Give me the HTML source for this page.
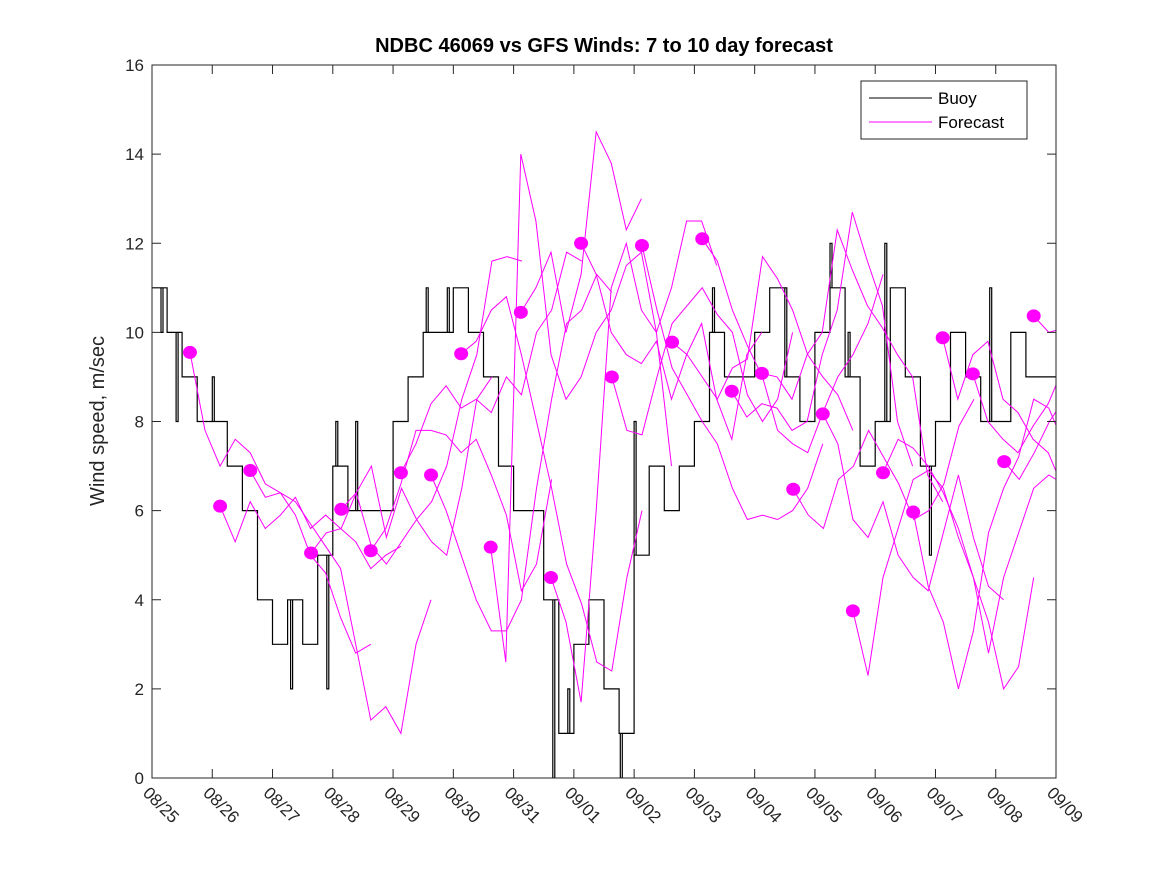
<!DOCTYPE html>
<html><head><meta charset="utf-8"><style>
body{margin:0;background:#fff}
svg{display:block;font-family:"Liberation Sans","DejaVu Sans",sans-serif}
</style></head><body>
<svg id="c" width="1167" height="875"></svg>
<script>
const xTickLabels=["08/25","08/26","08/27","08/28","08/29","08/30","08/31","09/01","09/02","09/03","09/04","09/05","09/06","09/07","09/08","09/09"];
const yTicks=[0,2,4,6,8,10,12,14,16];
const buoyStep=0.25;
const buoy=[11,10,9,8,8,7,6,4,3,4,3,5,7,6,6,6,8,9,10,10,11,10,9,7,6,6,4,1,3,4,2,1,5,7,6,7,8,10,9,9,10,11,9,8,10,11,9,7,8,11,9,7,8,10,9,8,8,10,9,9];
const spikeDays=[0.15,0.4,1.0,2.3,2.9,3.05,3.38,4.55,4.9,6.65,6.9,7.77,8.0,9.3,10.5,11.25,11.55,12.16,12.9,13.9];
const spikeVals=[10,8,9,2,2,8,8,11,11,0,2,0,8,11,11,12,10,12,5,11];
const dotDays=[0.63,1.13,1.63,2.64,3.14,3.63,4.13,4.63,5.13,5.62,6.12,6.62,7.12,7.63,8.13,8.63,9.13,9.62,10.12,10.64,11.13,11.63,12.13,12.63,13.12,13.62,14.14,14.63];
const dotVals=[9.55,6.1,6.9,5.05,6.03,5.1,6.85,6.8,9.52,5.18,10.45,4.5,12.0,9.0,11.95,9.78,12.1,8.68,9.08,6.48,8.17,3.75,6.85,5.97,9.88,9.07,7.1,10.37];
const fcStep=0.25;
const fc=[
[9.55,7.8,7.0,7.6,7.3,6.6,6.4,5.9,5.0,4.6,3.6,2.8,3.0],
[6.1,5.3,6.2,5.6,5.9,6.3,5.6,5.9,5.6,5.3,4.7,5.0,5.2],
[6.9,6.3,6.4,6.2,5.7,5.2,4.7,3.0,1.3,1.6,1.0,3.0,4.0],
[5.05,5.5,5.6,6.4,7.0,5.4,6.5,5.8,5.3,5.0,6.5,8.5,9.0],
[6.03,6.4,5.2,4.8,5.3,5.8,6.2,7.0,8.5,9.5,11.6,11.7,11.6],
[5.1,5.6,6.6,7.8,7.8,7.7,7.3,7.6,6.8,5.9,4.2,4.8,6.7],
[6.85,7.5,8.4,8.8,8.3,8.5,8.2,9.0,8.6,10.0,10.5,11.8,11.6],
[6.8,6.0,5.0,4.0,3.3,3.3,4.0,6.5,8.5,10.2,10.5,11.3,10.9],
[9.52,9.8,10.5,10.8,9.5,8.0,6.5,4.8,3.9,2.6,2.4,4.5,6.0],
[5.18,2.6,14.0,12.5,9.5,8.5,9.0,10.0,10.5,11.5,11.8,10.0,7.0],
[10.45,11.0,11.8,10.0,11.3,14.5,13.8,12.3,13.0],
[4.5,3.5,1.7,6.0,11.0,12.0,10.5,10.0,11.0,12.5,12.5,11.5],
[12.0,11.3,10.0,9.5,9.3,9.8,8.5,9.5,10.2,8.5,7.6,9.5,10.0],
[9.0,7.8,7.7,9.0,10.2,10.6,11.0,10.4,10.0,8.6,8.0,8.5,10.0],
[11.95,10.5,9.2,8.6,8.0,7.5,6.5,5.8,5.9,5.8,6.0,6.5,7.5],
[9.78,9.5,9.0,8.5,9.2,9.4,11.7,11.2,10.5,9.5,9.0,8.6,7.8],
[12.1,11.6,10.5,9.7,9.0,7.8,7.5,7.3,8.2,9.0,9.5,10.2,11.3],
[8.68,8.1,8.4,8.3,7.8,8.0,9.5,10.5,12.7,11.6,10.6,8.0,7.0],
[9.08,9.0,8.5,9.5,10.0,12.3,11.4,10.6,10.1,9.5,9.0,6.8,6.2],
[6.48,5.9,5.6,6.7,7.0,7.8,7.2,6.6,5.8,6.0,6.6,7.9,8.5],
[8.17,7.5,5.8,5.4,6.2,5.0,4.5,4.2,5.5,6.8,5.4,4.3,4.0],
[3.75,2.3,4.5,5.6,6.7,6.9,6.5,5.4,4.5,3.5,2.0,2.5,4.5],
[6.85,7.6,7.4,7.0,6.4,5.6,4.5,2.8,4.5,5.5,6.5,6.8,6.6],
[5.97,4.3,3.5,2.0,3.3,5.5,6.5,7.2,8.5,8.3,7.5,6.0,5.8],
[9.88,8.5,9.5,9.8,8.5,8.2,7.6,7.3,6.5,6.3,6.6,7.5,6.3],
[9.07,8.0,7.6,7.3,7.9,8.4,9.2,9.5,10.5,10.7,11.2,11.5,12.0],
[7.1,6.7,7.3,8.0,8.5,7.6,8.2,8.0],
[10.37,10.0,10.1,11.3]
];
const L=152,R=1056,T=65,B=778,SPAN=15;
const xs=d=>L+d*(R-L)/SPAN, ys=v=>B-v*(B-T)/16;
const NS="http://www.w3.org/2000/svg", svg=document.getElementById('c');
function mk(t,a,p){const e=document.createElementNS(NS,t);for(const k in a)e.setAttribute(k,a[k]);(p||svg).appendChild(e);return e;}
const clip=mk('clipPath',{id:'pc'});mk('rect',{x:L,y:T,width:R-L,height:B-T},clip);
const plot=mk('g',{'clip-path':'url(#pc)'});


let d='';buoy.forEach((v,i)=>{const x=xs(i*buoyStep),y=ys(v);d+=(i?'H'+x.toFixed(1)+'V'+y.toFixed(1):'M'+x.toFixed(1)+','+y.toFixed(1));});
d+='H'+xs(buoy.length*buoyStep).toFixed(1);
spikeDays.forEach((sd,i)=>{const base=buoy[Math.min(buoy.length-1,Math.floor(sd/buoyStep))];const x=xs(sd);
 d+='M'+x.toFixed(1)+','+ys(base).toFixed(1)+'V'+ys(spikeVals[i]).toFixed(1)+'H'+(x+2).toFixed(1)+'V'+ys(base).toFixed(1);});
const bl=mk('path',{d:d,fill:'none',stroke:'#000','stroke-width':1.2},plot);


fc.forEach((s,k)=>{const p=s.map((v,i)=>xs(dotDays[k]+i*fcStep).toFixed(1)+','+ys(v).toFixed(1)).join(' ');
 const e=mk('polyline',{points:p,fill:'none',stroke:'#ff00ff','stroke-width':1},plot);
 
 });
dotDays.forEach((dd,i)=>{const e=mk('ellipse',{cx:xs(dd),cy:ys(dotVals[i]),rx:7,ry:6.5,fill:'#ff00ff'},plot);
 
 });
const ax=mk('rect',{x:L,y:T,width:R-L,height:B-T,fill:'none',stroke:'#262626','stroke-width':1});


yTicks.forEach(v=>{const y=ys(v);mk('line',{x1:L,x2:L+9,y1:y,y2:y,stroke:'#262626'});mk('line',{x1:R,x2:R-9,y1:y,y2:y,stroke:'#262626'});
 const t=mk('text',{x:L-8,y:y+6,'text-anchor':'end','font-size':17,fill:'#262626'});t.textContent=v;
 
 });
xTickLabels.forEach((s,i)=>{const x=xs(i);mk('line',{x1:x,x2:x,y1:B,y2:B-9,stroke:'#262626'});mk('line',{x1:x,x2:x,y1:T,y2:T+9,stroke:'#262626'});
 const t=mk('text',{x:x-10,y:B+16,'font-size':17,fill:'#262626',transform:`rotate(45 ${x-10} ${B+16})`});t.textContent=s;
 
 });
const ti=mk('text',{x:604,y:52,'text-anchor':'middle','font-size':20,'font-weight':'bold',fill:'#000'});ti.textContent='NDBC 46069 vs GFS Winds: 7 to 10 day forecast';


const yl=mk('text',{x:104,y:421,'text-anchor':'middle','font-size':20,fill:'#262626',transform:'rotate(-90 104 421)'});yl.textContent='Wind speed, m/sec';


const lg=mk('g',{});


mk('rect',{x:861,y:81,width:166,height:58,fill:'#fff',stroke:'#262626'},lg);
mk('line',{x1:869,x2:932,y1:98,y2:98,stroke:'#000'},lg);
mk('line',{x1:869,x2:932,y1:122,y2:122,stroke:'#ff00ff'},lg);
const t1=mk('text',{x:938,y:104,'font-size':17,fill:'#000'},lg);t1.textContent='Buoy';


const t2=mk('text',{x:938,y:128,'font-size':17,fill:'#000'},lg);t2.textContent='Forecast';


</script>
</body></html>
